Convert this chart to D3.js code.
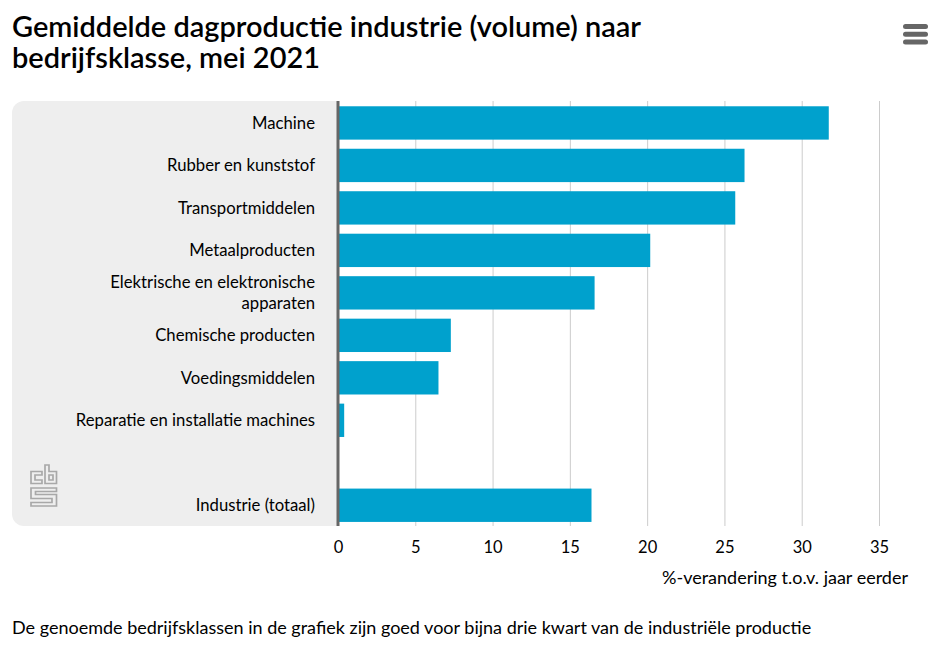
<!DOCTYPE html>
<html>
<head>
<meta charset="utf-8">
<script src="https://cdn.jsdelivr.net/npm/d3@7"></script>
<style>
  html, body { margin: 0; padding: 0; background: #fff; }
  text { font-family: Lato, sans-serif; fill: #000; }
</style>
</head>
<body>
<div id="chart"></div>
<script>
const categories = [
  'Machine',
  'Rubber en kunststof',
  'Transportmiddelen',
  'Metaalproducten',
  'Elektrische en elektronische|apparaten',
  'Chemische producten',
  'Voedingsmiddelen',
  'Reparatie en installatie machines',
  '',
  'Industrie (totaal)',
];
const values = [31.75, 26.3, 25.7, 20.2, 16.6, 7.3, 6.5, 0.4, null, 16.4];
const xTicks = [0, 5, 10, 15, 20, 25, 30, 35];
const titleLines = ['Gemiddelde dagproductie industrie (volume) naar', 'bedrijfsklasse, mei 2021'];
const axisTitle = '%-verandering t.o.v. jaar eerder';
const footnote = 'De genoemde bedrijfsklassen in de grafiek zijn goed voor bijna drie kwart van de industriële productie';

const width = 949;
const height = 649;
const plot = { left: 338, right: 879, top: 101, bottom: 526 };

const svg = d3.select('#chart').append('svg')
  .attr('width', width)
  .attr('height', height)
  .style('display', 'block');

const x = d3.scaleLinear().domain([0, 35]).range([plot.left, plot.right]);
const y = d3.scaleBand()
  .domain(categories.map((d, i) => i))
  .range([plot.top + 0.6, plot.bottom + 0.6])
  .paddingInner(0.215)
  .paddingOuter(0.11);

// grey panel behind the labels
svg.append('path')
  .attr('fill', '#eeeeee')
  .attr('d', `M12 113a12 12 0 0 1 12 -12H${plot.left}V${plot.bottom}H24a12 12 0 0 1 -12 -12Z`);

// titel
svg.append('g').selectAll('text').data(titleLines).enter().append('text')
  .attr('x', 12)
  .attr('y', (d, i) => 37 + i * 31)
  .attr('font-size', 28)
  .attr('font-weight', 600)
  .attr('textLength', (d, i) => (i === 0 ? 629 : 308))
  .attr('lengthAdjust', 'spacingAndGlyphs')
  .text(d => d);

// menu icon
svg.append('g').selectAll('rect').data([0, 1, 2]).enter().append('rect')
  .attr('x', 903)
  .attr('y', d => 24 + d * 7.7)
  .attr('width', 25)
  .attr('height', 5)
  .attr('rx', 2.5)
  .attr('fill', '#666666');

// gridlines
svg.append('g').selectAll('line').data(xTicks.slice(1)).enter().append('line')
  .attr('x1', d => x(d) + 0.5)
  .attr('x2', d => x(d) + 0.5)
  .attr('y1', plot.top)
  .attr('y2', plot.bottom)
  .attr('stroke', '#cccccc')
  .attr('stroke-width', 1);

// bars
svg.append('g').selectAll('rect')
  .data(values.map((v, i) => ({ v, i })).filter(d => d.v !== null))
  .enter().append('rect')
  .attr('x', x(0))
  .attr('y', d => y(d.i))
  .attr('width', d => x(d.v) - x(0))
  .attr('height', y.bandwidth())
  .attr('fill', '#00a1cd');

// zero line
svg.append('line')
  .attr('x1', x(0))
  .attr('x2', x(0))
  .attr('y1', plot.top)
  .attr('y2', plot.bottom)
  .attr('stroke', '#666666')
  .attr('stroke-width', 3);

// category labels
const labels = svg.append('g').attr('font-size', 16.7).attr('text-anchor', 'end');
categories.forEach((c, i) => {
  if (!c) return;
  const lines = c.split('|');
  const mid = y(i) + y.bandwidth() / 2;
  lines.forEach((line, j) => {
    labels.append('text')
      .attr('x', 315)
      .attr('y', mid + 6 + (j - (lines.length - 1) / 2) * 21)
      .text(line);
  });
});

// x axis
const xAxis = d3.axisBottom(x).tickValues(xTicks).tickSize(0).tickPadding(0);
const axisG = svg.append('g')
  .attr('transform', `translate(0,${plot.bottom + 15})`)
  .call(xAxis);
axisG.select('.domain').remove();
axisG.selectAll('text')
  .attr('font-size', 16.5)
  .style('font-family', 'Lato, sans-serif')
  .attr('fill', '#000');

svg.append('text')
  .attr('x', 908)
  .attr('y', 584)
  .attr('text-anchor', 'end')
  .attr('font-size', 18)
  .text(axisTitle);

svg.append('text')
  .attr('x', 12)
  .attr('y', 634)
  .attr('font-size', 18)
  .text(footnote);

// cbs logo
svg.append('path')
  .attr('fill', 'none')
  .attr('stroke', '#a8a8a8')
  .attr('stroke-width', 1.7)
  .attr('d', 'M42 471.5H31V483.5H42V480H35V475H42Z M45 465H49V471.5H56.5V483.5H45Z M49 475H53V480H49Z M31 488H56.5V491.5H35.5V494.5H56.5V506H31V502.5H52V498.5H31Z');
</script>
</body>
</html>
